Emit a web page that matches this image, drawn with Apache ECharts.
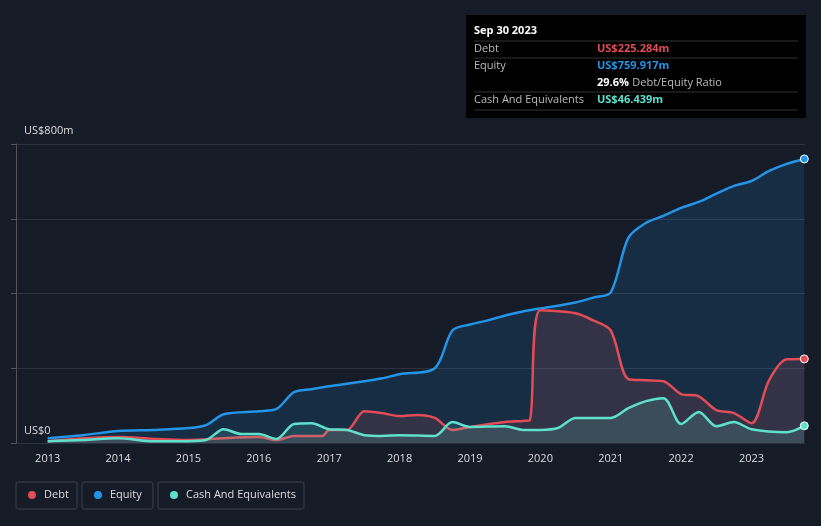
<!DOCTYPE html>
<html>
<head>
<meta charset="utf-8">
<script src="https://cdn.jsdelivr.net/npm/echarts@6/dist/echarts.min.js"></script>
<style>
html,body{margin:0;padding:0;background:#151b27;}
#chart{width:821px;height:526px;}
</style>
</head>
<body>
<div id="chart"></div>
<script>
// values in US$ millions, quarter points as decimal years
var equityT = [2013,2013.5,2014,2014.5,2015,2015.25,2015.5,2016,2016.25,2016.5,2016.75,2017,2017.5,2017.75,2018,2018.5,2018.75,2019,2019.25,2019.5,2019.75,2020,2020.5,2020.75,2021,2021.25,2021.5,2021.75,2022,2022.25,2022.5,2022.75,2023,2023.25,2023.5,2023.75];
var equityV = [13,21,32,35,40,48,77,85,91,136,144,152,165,173,184,200,301,317,328,341,352,360,376,389,403,549,589,608,629,645,667,688,701,728,747,760];
var debtT = [2013,2014,2014.5,2015,2015.5,2016,2016.25,2016.5,2016.9,2017,2017.25,2017.5,2017.75,2018,2018.25,2018.5,2018.75,2019,2019.5,2019.75,2019.85,2020,2020.5,2020.75,2021,2021.25,2021.5,2021.75,2022,2022.25,2022.5,2022.75,2023,2023.25,2023.5,2023.75];
var debtV = [5,16,11,8,13,16,8,19,19,35,35,85,80,72,75,67,35,43,56,59,61,355,347,328,301,171,168,165,131,125,88,80,53,168,224,225];
var cashT = [2013,2013.5,2014,2014.5,2015,2015.25,2015.5,2015.75,2016,2016.25,2016.5,2016.75,2017,2017.25,2017.5,2017.75,2018,2018.5,2018.75,2019,2019.5,2019.75,2020,2020.25,2020.5,2021,2021.25,2021.5,2021.75,2022,2022.25,2022.5,2022.75,2023,2023.5,2023.75];
var cashV = [5,8,13,5,5,8,37,24,24,11,51,53,37,35,21,19,21,19,56,43,45,35,35,40,67,67,93,112,120,51,83,45,56,37,29,46];
var yearLabels = ['2013','2014','2015','2016','2017','2018','2019','2020','2021','2022','2023'];

function pairs(t, v) {
  return t.map(function (x, i) { return [x, v[i]]; });
}
function series(name, t, v, color, area) {
  var d = pairs(t, v);
  return {
    name: name, type: 'line', smooth: 0.3, data: d,
    symbol: 'circle', symbolSize: function (val, p) { return p.dataIndex === d.length - 1 ? 8 : 0; },
    showSymbol: true,
    itemStyle: { color: color, borderColor: '#fff', borderWidth: 1 },
    lineStyle: { color: color, width: 2.5 },
    areaStyle: { color: area },
    z: name === 'Equity' ? 1 : (name === 'Debt' ? 2 : 3)
  };
}
var chart = echarts.init(document.getElementById('chart'));
chart.setOption({
  backgroundColor: '#151b27',
  animation: false,
  grid: { left: 16, right: 16, top: 144, bottom: 83 },
  xAxis: {
    type: 'value', min: 2012.55, max: 2023.76, interval: 1,
    axisLine: { show: false }, axisTick: { show: false }, splitLine: { show: false },
    axisLabel: { color: '#ddd', fontSize: 11, fontFamily: 'Open Sans', margin: 10,
      formatter: function (v) { return yearLabels.indexOf(String(Math.round(v))) >= 0 && Math.abs(v - Math.round(v)) < 0.01 ? String(Math.round(v)) : ''; },
      customValues: yearLabels.map(Number) }
  },
  yAxis: {
    type: 'value', min: 0, max: 800, interval: 200,
    axisLabel: { show: false },
    splitLine: { lineStyle: { color: '#2c3240', width: 1 } }
  },
  legend: { show: false },
  series: [
    series('Equity', equityT, equityV, '#2394e8', 'rgba(35,148,232,0.22)'),
    series('Debt', debtT, debtV, '#e14c57', 'rgba(225,76,87,0.22)'),
    series('Cash And Equivalents', cashT, cashV, '#5fe0cc', 'rgba(95,224,204,0.22)')
  ],
  graphic: [
    { type: 'text', left: 24, top: 125, style: { text: 'US$800m', fill: '#ddd', font: '11px "Open Sans"' } },
    { type: 'text', left: 24, top: 425, style: { text: 'US$0', fill: '#ddd', font: '11px "Open Sans"' } },
    { type: 'rect', shape: { x: 466, y: 15, width: 340, height: 103 }, style: { fill: '#000' } },
    { type: 'text', x: 474, y: 25, style: { text: 'Sep 30 2023', fill: '#fff', font: 'bold 11px "Open Sans"' } },
    { type: 'line', shape: { x1: 474, y1: 41, x2: 798, y2: 41 }, style: { stroke: '#333' } },
    { type: 'text', x: 474, y: 43, style: { text: 'Debt', fill: '#bbb', font: '11px "Open Sans"' } },
    { type: 'text', x: 597, y: 43, style: { text: 'US$225.284m', fill: '#e14c57', font: 'bold 11px "Open Sans"' } },
    { type: 'line', shape: { x1: 474, y1: 58, x2: 798, y2: 58 }, style: { stroke: '#333' } },
    { type: 'text', x: 474, y: 60, style: { text: 'Equity', fill: '#bbb', font: '11px "Open Sans"' } },
    { type: 'text', x: 597, y: 60, style: { text: 'US$759.917m', fill: '#2394e8', font: 'bold 11px "Open Sans"' } },
    { type: 'text', x: 597, y: 77, style: { rich: { a: { fill: '#fff', font: 'bold 11px "Open Sans"' }, b: { fill: '#bbb', font: '11px "Open Sans"' } }, text: '{a|29.6%} {b|Debt/Equity Ratio}' } },
    { type: 'line', shape: { x1: 474, y1: 92, x2: 798, y2: 92 }, style: { stroke: '#333' } },
    { type: 'text', x: 474, y: 94, style: { text: 'Cash And Equivalents', fill: '#bbb', font: '11px "Open Sans"' } },
    { type: 'text', x: 597, y: 94, style: { text: 'US$46.439m', fill: '#5fe0cc', font: 'bold 11px "Open Sans"' } },
    { type: 'line', shape: { x1: 474, y1: 110, x2: 798, y2: 110 }, style: { stroke: '#333' } },
    // legend boxes
    { type: 'rect', shape: { x: 16, y: 482, width: 61, height: 27, r: 2 }, style: { fill: 'none', stroke: '#3a4050' } },
    { type: 'circle', shape: { cx: 32, cy: 495, r: 4 }, style: { fill: '#e14c57' } },
    { type: 'text', x: 44, y: 489, style: { text: 'Debt', fill: '#ddd', font: '11px "Open Sans"' } },
    { type: 'rect', shape: { x: 82, y: 482, width: 71, height: 27, r: 2 }, style: { fill: 'none', stroke: '#3a4050' } },
    { type: 'circle', shape: { cx: 98, cy: 495, r: 4 }, style: { fill: '#2394e8' } },
    { type: 'text', x: 110, y: 489, style: { text: 'Equity', fill: '#ddd', font: '11px "Open Sans"' } },
    { type: 'rect', shape: { x: 158, y: 482, width: 146, height: 27, r: 2 }, style: { fill: 'none', stroke: '#3a4050' } },
    { type: 'circle', shape: { cx: 174, cy: 495, r: 4 }, style: { fill: '#5fe0cc' } },
    { type: 'text', x: 186, y: 489, style: { text: 'Cash And Equivalents', fill: '#ddd', font: '11px "Open Sans"' } }
  ]
});
</script>
</body>
</html>
